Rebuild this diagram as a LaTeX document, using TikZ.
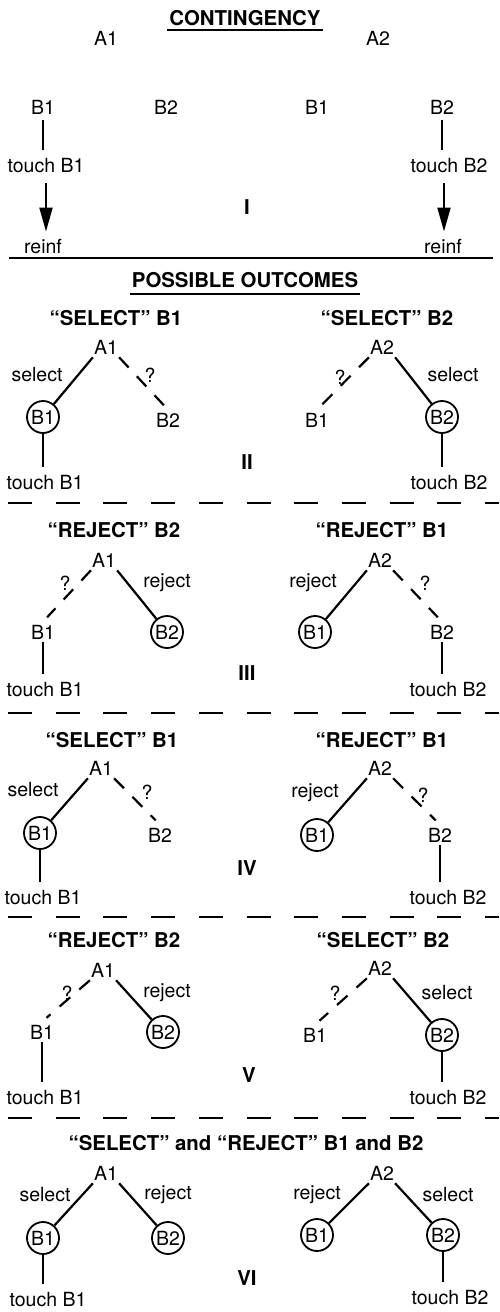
\documentclass[tikz,border=0pt]{standalone}
\usepackage{fontspec}
\setmainfont{TeX Gyre Heros}
\usetikzlibrary{arrows.meta}
\begin{document}
\begin{tikzpicture}[x=1pt,y=-1pt,
  txt/.style={font=\fontsize{19.5}{20}\selectfont, inner sep=3pt},
  root/.style={txt, inner xsep=1pt},
  ttl/.style={font=\bfseries\fontsize{20.4}{22}\selectfont, inner sep=2pt},
  circ/.style={txt, circle, draw, line width=1.8pt, minimum size=32pt, inner sep=0pt},
  link/.style={line width=2.2pt},
  dlink/.style={line width=2.2pt, dash pattern=on 14pt off 12pt, shorten >=6pt},
  stem/.style={line width=1.8pt, shorten >=6pt},
  sep/.style={line width=2pt, dash pattern=on 24pt off 23.7pt},
  rule/.style={line width=2pt},
  arr/.style={line width=2pt, -{Triangle[length=24pt,width=13pt]}, shorten <=7pt, shorten >=5pt},
]
\useasboundingbox (0,0) rectangle (499,1312);

% ---------------- contingency ----------------
\node[ttl] (cont) at (245,18) {CONTINGENCY};
\draw[rule] ([yshift=-2pt]cont.south west) -- ([yshift=-2pt]cont.south east);
\node[txt] (a1) at (106,38) {A1};
\node[txt] (a2) at (378,38) {A2};
\node[txt] (b11) at (43,107) {B1};
\node[txt] (b12) at (166,107) {B2};
\node[txt] (b21) at (317,107) {B1};
\node[txt] (b22) at (442,107) {B2};
\node[txt] (t1) at (46,166) {touch B1};
\node[txt] (t2) at (449,166) {touch B2};
\node[txt] (r1) at (43,247) {reinf};
\node[txt] (r2) at (443,247) {reinf};
\draw[stem, shorten <=3pt] (b11.south) -- (b11.south |- t1.north);
\draw[stem, shorten <=3pt] (b22.south) -- (b22.south |- t2.north);
\draw[arr] (t1.south) -- (t1.south |- r1.north);
\draw[arr] ([xshift=-5pt]t2.south) -- ([xshift=-5pt]t2.south |- r2.north);
\node[ttl] (n1) at (247,207) {I};
\draw[rule] (9,258) -- (493,258);

\node[ttl] (pos) at (245,280) {POSSIBLE OUTCOMES};
\draw[rule] ([yshift=-4.5pt]pos.south west) -- ([yshift=-4.5pt]pos.south east);

% ---------------- II ----------------
\node[ttl] (h2l) at (116,318) {“SELECT” B1};
\node[ttl] (h2r) at (387,318) {“SELECT” B2};
\node[root] (p2a1) at (106,347) {A1};
\node[circ] (p2b1) at (43,417) {B1};
\node[txt] (p2b2) at (168,420) {B2};
\node[txt] (p2ls) at (37,375) {select};
\node[txt] (p2lq) at (150,375) {?};
\node[txt] (p2t1) at (45,483) {touch B1};
\draw[link] (p2a1.south west) -- (p2b1);
\draw[dlink] (p2a1.south east) -- (p2b2.north);
\draw[stem] (p2b1.south) -- (p2b1.south |- p2t1.north);
\node[root] (p2a2) at (382,347) {A2};
\node[txt] (p2c1) at (317,420) {B1};
\node[circ] (p2c2) at (442,417) {B2};
\node[txt] (p2rs) at (453,375) {select};
\node[txt] (p2rq) at (340,377) {?};
\node[txt] (p2t2) at (449,483) {touch B2};
\draw[link] (p2a2.south east) -- (p2c2);
\draw[dlink] (p2a2.south west) -- (p2c1.north);
\draw[stem] (p2c2.south) -- (p2c2.south |- p2t2.north);
\node[ttl] (n2) at (247,462) {II};
\draw[sep] (8,503) -- (499,503);

% ---------------- III ----------------
\node[ttl] (h3l) at (114,530) {“REJECT” B2};
\node[ttl] (h3r) at (382,530) {“REJECT” B1};
\node[root] (p3a1) at (104,560) {A1};
\node[txt] (p3b1) at (43,632) {B1};
\node[circ] (p3b2) at (167,632) {B2};
\node[txt] (p3lq) at (65,583) {?};
\node[txt] (p3lr) at (167,583) {reject};
\node[txt] (p3t1) at (45,690) {touch B1};
\draw[dlink] (p3a1.south west) -- (p3b1.north);
\draw[link] (p3a1.south east) -- (p3b2);
\draw[stem] (p3b1.south) -- (p3b1.south |- p3t1.north);
\node[root] (p3a2) at (380,560) {A2};
\node[circ] (p3c1) at (315,632) {B1};
\node[txt] (p3c2) at (442,632) {B2};
\node[txt] (p3rr) at (313,583) {reject};
\node[txt] (p3rq) at (425,583) {?};
\node[txt] (p3t2) at (448,690) {touch B2};
\draw[link] (p3a2.south west) -- (p3c1);
\draw[dlink] (p3a2.south east) -- (p3c2.north);
\draw[stem] (p3c2.south) -- (p3c2.south |- p3t2.north);
\node[ttl] (n3) at (247,673) {III};
\draw[sep] (8,713) -- (499,713);

% ---------------- IV ----------------
\node[ttl] (h4l) at (112,740) {“SELECT” B1};
\node[ttl] (h4r) at (382,740) {“REJECT” B1};
\node[root] (p4a1) at (101,768) {A1};
\node[circ] (p4b1) at (40,833) {B1};
\node[txt] (p4b2) at (160,835) {B2};
\node[txt] (p4ls) at (33,790) {select};
\node[txt] (p4lq) at (147,792) {?};
\node[txt] (p4t1) at (43,898) {touch B1};
\draw[link] (p4a1.south west) -- (p4b1);
\draw[dlink] (p4a1.south east) -- (p4b2.north);
\draw[stem] (p4b1.south) -- (p4b1.south |- p4t1.north);
\node[root] (p4a2) at (380,768) {A2};
\node[circ] (p4c1) at (317,835) {B1};
\node[txt] (p4c2) at (440,835) {B2};
\node[txt] (p4rr) at (315,793) {reject};
\node[txt] (p4rq) at (423,795) {?};
\node[txt] (p4t2) at (448,898) {touch B2};
\draw[link] (p4a2.south west) -- (p4c1);
\draw[dlink] (p4a2.south east) -- (p4c2.north);
\draw[stem] (p4c2.south) -- (p4c2.south |- p4t2.north);
\node[ttl] (n4) at (247,868) {IV};
\draw[sep] (8,917) -- (499,917);

% ---------------- V ----------------
\node[ttl] (h5l) at (114,940) {“REJECT” B2};
\node[ttl] (h5r) at (383,940) {“SELECT” B2};
\node[root] (p5a1) at (103,970) {A1};
\node[txt] (p5b1) at (42,1032) {B1};
\node[circ] (p5b2) at (163,1032) {B2};
\node[txt] (p5lq) at (67,993) {?};
\node[txt] (p5lr) at (167,993) {reject};
\node[txt] (p5t1) at (45,1098) {touch B1};
\draw[dlink] (p5a1.south west) -- (p5b1.north);
\draw[link] (p5a1.south east) -- (p5b2);
\draw[stem] (p5b1.south) -- (p5b1.south |- p5t1.north);
\node[root] (p5a2) at (380,968) {A2};
\node[txt] (p5c1) at (315,1035) {B1};
\node[circ] (p5c2) at (442,1035) {B2};
\node[txt] (p5rq) at (335,993) {?};
\node[txt] (p5rs) at (447,993) {select};
\node[txt] (p5t2) at (448,1098) {touch B2};
\draw[dlink] (p5a2.south west) -- (p5c1.north);
\draw[link] (p5a2.south east) -- (p5c2);
\draw[stem] (p5c2.south) -- (p5c2.south |- p5t2.north);
\node[ttl] (n5) at (249,1075) {V};
\draw[sep] (8,1118) -- (499,1118);

% ---------------- VI ----------------
\node[ttl] (h6) at (246,1143) {“SELECT” and “REJECT” B1 and B2};
\node[root] (p6a1) at (106,1173) {A1};
\node[circ] (p6b1) at (43,1238) {B1};
\node[circ] (p6b2) at (168,1238) {B2};
\node[txt] (p6ls) at (45,1195) {select};
\node[txt] (p6lr) at (168,1195) {reject};
\node[txt] (p6t1) at (48,1300) {touch B1};
\draw[link] (p6a1.south west) -- (p6b1);
\draw[link] (p6a1.south east) -- (p6b2);
\draw[stem] (p6b1.south) -- (p6b1.south |- p6t1.north);
\node[root] (p6a2) at (382,1173) {A2};
\node[circ] (p6c1) at (317,1235) {B1};
\node[circ] (p6c2) at (443,1235) {B2};
\node[txt] (p6rr) at (317,1195) {reject};
\node[txt] (p6rs) at (448,1195) {select};
\node[txt] (p6t2) at (450,1298) {touch B2};
\draw[link] (p6a2.south west) -- (p6c1);
\draw[link] (p6a2.south east) -- (p6c2);
\draw[stem] (p6c2.south) -- (p6c2.south |- p6t2.north);
\node[ttl] (n6) at (247,1278) {VI};
\end{tikzpicture}
\end{document}
